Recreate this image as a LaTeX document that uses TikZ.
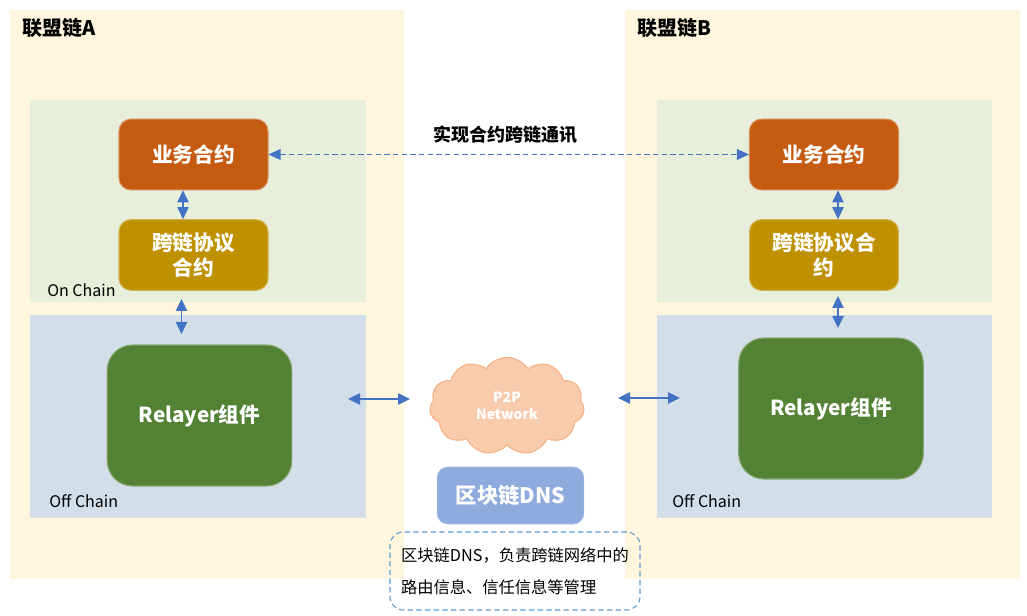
\documentclass[tikz,border=0pt]{standalone}
\usepackage{fontspec}
\setmainfont{Noto Sans CJK SC}
\usetikzlibrary{arrows.meta,shapes.symbols}
\definecolor{outerc}{HTML}{FFF6DD}
\definecolor{onc}{HTML}{E7EFDA}
\definecolor{offc}{HTML}{D3DFE8}
\definecolor{bizc}{HTML}{C55A11}
\definecolor{crossc}{HTML}{BF9000}
\definecolor{relc}{HTML}{548235}
\definecolor{dnsc}{HTML}{8FAADC}
\definecolor{arrc}{HTML}{4472C4}
\definecolor{cloudc}{HTML}{F8CBAD}
\definecolor{cloudb}{HTML}{F4B183}
\definecolor{notec}{HTML}{5B9BD5}
\begin{document}
\begin{tikzpicture}[x=0.75pt,y=-0.75pt,
  region/.style={fill=#1,draw=none,inner sep=0pt},
  box/.style={fill=#1,draw=#1!70!white,line width=0.8pt,rounded corners=9pt,inner sep=0pt,
    text=white,font=\fontsize{15.5}{19}\selectfont\bfseries,align=center,
    minimum width=111.75pt,minimum height=53pt},
  relay/.style={fill=relc,draw=relc!70!white,line width=0.8pt,rounded corners=19pt,inner sep=0pt,
    text=white,font=\fontsize{15.5}{18}\selectfont\bfseries,minimum width=138.5pt,minimum height=105.75pt},
  title/.style={anchor=west,inner sep=0pt,font=\fontsize{15}{18}\selectfont\bfseries},
  tag/.style={anchor=west,inner sep=0pt,font=\fontsize{12}{14}\selectfont},
  link/.style={draw=arrc,line width=1.1pt,{Triangle[length=9pt,width=8.5pt]}-{Triangle[length=9pt,width=8.5pt]}},
  dlink/.style={draw=arrc,line width=0.9pt,dash pattern=on 4pt off 2.5pt,{Triangle[length=9pt,width=8pt]}-{Triangle[length=9pt,width=8pt]}}
]
\useasboundingbox (0,0) rectangle (1027,616);
\fill[white] (0,0) rectangle (1027,616);

% chain A
\node[region=outerc,minimum width=295.5pt,minimum height=426.75pt] (outA) at (207,294.5) {};
\node[region=onc,minimum width=252pt,minimum height=151.5pt] (onA) at (198,201) {};
\node[region=offc,minimum width=252pt,minimum height=152.25pt] (offA) at (198,416.5) {};
\node[title] (tA) at (22,28) {联盟链A};
\node[tag] (onlA) at (47,290) {On Chain};
\node[tag] (offlA) at (49,501) {Off Chain};
\node[box=bizc] (bizA) at (193.5,154.5) {业务合约};
\node[box=crossc] (crossA) at (193.5,255) {跨链协议\\合约};
\node[relay] (relA) at (199.5,415.5) {Relayer组件};

% chain B
\node[region=outerc,minimum width=296.25pt,minimum height=426.75pt] (outB) at (822.5,294.5) {};
\node[region=onc,minimum width=251.25pt,minimum height=151.5pt] (onB) at (824.5,201) {};
\node[region=offc,minimum width=251.25pt,minimum height=152.25pt] (offB) at (824.5,416.5) {};
\node[title] (tB) at (637,28) {联盟链B};
\node[tag] (offlB) at (672,501) {Off Chain};
\node[box=bizc] (bizB) at (824,154.5) {业务合约};
\node[box=crossc] (crossB) at (824,255) {跨链协议合\\约};
\node[relay] (relB) at (831,408.5) {Relayer组件};

% middle
\node[cloud,cloud puffs=11,cloud puff arc=115,aspect=1.5,fill=cloudc,draw=cloudb,line width=0.8pt,
  minimum width=116pt,minimum height=73pt,inner sep=0pt,text=white,align=center,
  font=\fontsize{10.5}{12.5}\selectfont\bfseries] (cloud) at (507,406) {P2P\\Network};
\node[fill=dnsc,draw=dnsc!80!white,rounded corners=8pt,minimum width=110pt,minimum height=42.75pt,inner sep=0pt,
  text=white,font=\fontsize{16}{19}\selectfont\bfseries] (dns) at (510.5,495.5) {区块链DNS};
\node[draw=notec,line width=0.8pt,dash pattern=on 4pt off 2.5pt,rounded corners=10pt,
  minimum width=187.5pt,minimum height=58.5pt,inner sep=0pt,align=left,
  font=\fontsize{12.2}{24}\selectfont] (note) at (515,571) {区块链DNS，负责跨链网络中的\\路由信息、信任信息等管理};
\node[inner sep=0pt,font=\fontsize{13.5}{16}\selectfont\bfseries] (lbl) at (505,135) {实现合约跨链通讯};

% connectors
\draw[dlink] (bizA.east) -- (bizB.west);
\coordinate (colA) at (183,0);
\coordinate (colB) at (838,0);
\draw[link] (bizA.south -| colA) -- (crossA.north -| colA);
\draw[link] (bizB.south -| colB) -- (crossB.north -| colB);
\coordinate (vA1) at (181.5,299);
\coordinate (vA2) at (181.5,334);
\coordinate (vB1) at (838,296);
\coordinate (vB2) at (838,328);
\draw[link] (vA1) -- (vA2);
\draw[link] (vB1) -- (vB2);
\coordinate (hA1) at (348,399);
\coordinate (hA2) at (410,399);
\coordinate (hB1) at (618,398);
\coordinate (hB2) at (680,398);
\draw[link] (hA1) -- (hA2);
\draw[link] (hB1) -- (hB2);
\end{tikzpicture}
\end{document}
